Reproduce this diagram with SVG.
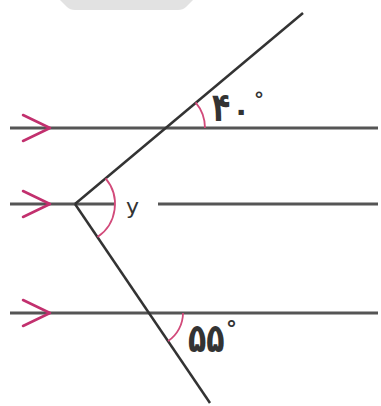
<svg xmlns="http://www.w3.org/2000/svg" width="381" height="406" viewBox="0 0 381 406">
<style>
.h{stroke:#555;stroke-width:3;fill:none}
.o{stroke:#333;stroke-width:2.5;fill:none}
.arc{stroke:#d24a7a;stroke-width:1.8;fill:none}
.ar{stroke:#c2306e;stroke-width:2.5;fill:none;stroke-linecap:round;stroke-linejoin:round}
.t{font-family:"DejaVu Sans",sans-serif;fill:#333;font-weight:bold}
.v{font-family:"DejaVu Sans",sans-serif;fill:#333}
</style>
<rect width="381" height="406" fill="#fff"/>
<path d="M60,0 H193 L186,7 Q183,10 178,10 H75 Q70,10 67,7 Z" fill="#e2e2e2"/>
<g id="connectors">
<line class="h" x1="10" y1="128" x2="378" y2="128"/>
<line class="h" x1="10" y1="204" x2="115" y2="204"/>
<line class="h" x1="158" y1="204" x2="378" y2="204"/>
<line class="h" x1="10" y1="313" x2="378" y2="313"/>
<line class="o" x1="75" y1="204" x2="303" y2="13"/>
<line class="o" x1="75" y1="204" x2="210" y2="403"/>
</g>
<g id="arrows">
<polyline class="ar" points="23,115 50,128 23,141"/>
<polyline class="ar" points="23,191 50,204 23,217"/>
<polyline class="ar" points="23,300 50,313 23,326"/>
</g>
<g id="angle40">
<path class="arc" d="M205,128 A40,40 0 0 0 195.6,102.3"/>
<text class="t" x="212" y="121" font-size="30" transform="translate(0,-40) scale(1,1.33)">۴</text>
<text class="t" x="232" y="121" font-size="30">۰</text>
<text class="t" x="254" y="106" font-size="20">°</text>
</g>
<g id="angley">
<path class="arc" d="M105.6,178.3 A40,40 0 0 1 97.5,237.1"/>
<text class="v" x="126" y="214" font-size="22">y</text>
</g>
<g id="angle55">
<path class="arc" d="M183,313 A34,34 0 0 1 168.1,341.1"/>
<text class="t" x="188" y="352" font-size="30" transform="translate(0,-116) scale(1,1.33)">۵۵</text>
<text class="t" x="226" y="336" font-size="22">°</text>
</g>
</svg>
